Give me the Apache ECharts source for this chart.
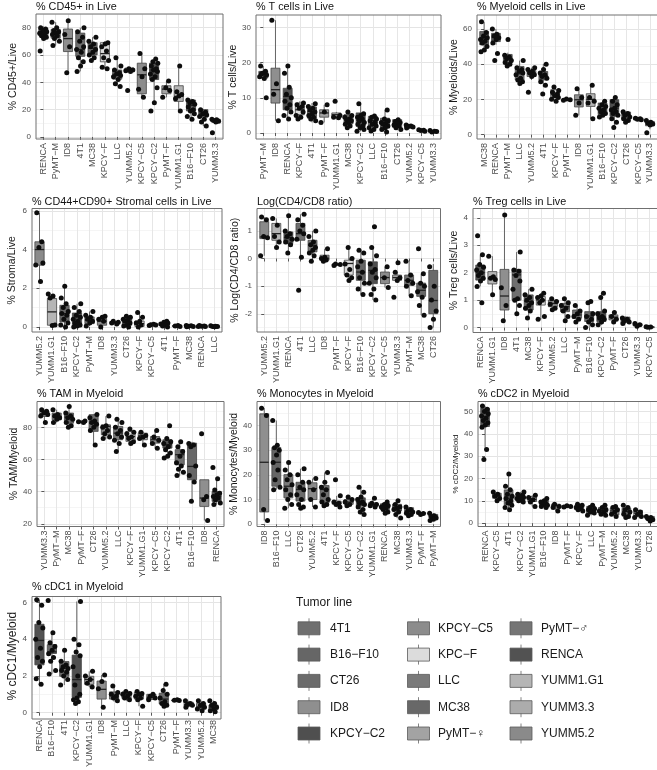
<!DOCTYPE html>
<html><head><meta charset="utf-8">
<script src="https://cdn.jsdelivr.net/npm/echarts@6/dist/echarts.min.js"></script>
<style>html,body{margin:0;padding:0;background:#fff}#c{width:657px;height:770px}</style>
</head><body><div id="c"></div>
<script>
// ---------------- DATA ----------------
const tumorLines = ['4T1','B16−F10','CT26','ID8','KPCY−C2','KPCY−C5','KPC−F','LLC','MC38','PyMT−♀','PyMT−♂','RENCA','YUMM1.G1','YUMM3.3','YUMM5.2'];
const tumorColors = ['#6f6f6f','#666666','#6b6b6b','#8f8f8f','#4f4f4f','#8c8c8c','#dcdcdc','#7a7a7a','#686868','#a3a3a3','#757575','#525252','#b5b5b5','#acacac','#8a8a8a'];
const axisAlias = {'KPCY−F':'KPC−F','PyMT−M':'PyMT−♂','PyMT−F':'PyMT−♀'};

const panelTitles = ['% CD45+ in Live','% T cells in Live','% Myeloid cells in Live','% CD44+CD90+ Stromal cells in Live','Log(CD4/CD8 ratio)','% Treg cells in Live','% TAM in Myeloid','% Monocytes in Myeloid','% cDC2 in Myeloid','% cDC1 in Myeloid'];
const yTitles = ['% CD45+/Live','% T cells/Live','% Myeloids/Live','% Stroma/Live','% Log(CD4/CD8 ratio)','% Treg cells/Live','% TAM/Myeloid','% Monocytes/Myeloid','% cDC2/Myeloid','% cDC1/Myeloid'];

// box stats: [lower whisker, Q1, median, Q3, upper whisker]
const cd45Cats = ['RENCA','PyMT−M','ID8','4T1','MC38','KPCY−F','LLC','YUMM5.2','KPCY−C5','KPCY−C2','PyMT−F','YUMM1.G1','B16−F10','CT26','YUMM3.3'];
const cd45Box = [[71,74,77,79.5,81],[67,72.3,76,78.8,84],[47,62.5,72,79,85],[48,59,64,76,80],[55,60,65,69,73],[50,55,61,69,70],[37,42.3,46,49,58],[47,48.7,49,50.4,50.5],[29,31.6,45.5,54,61],[26,42,49,54,57],[29,31.6,35,37.5,41],[19,26,29.7,37.5,52],[13,19,23,27,28],[8,14.6,17.5,20,20.5],[10.5,11,12,13,13.5]];
const cd45Pts = [[80,79,78,77,76,75,74,73,72,63],[84,80,78,77,76,75,74,72,70,67],[85,75,66,47],[80,77,73,70,66,64,62,58,55,52,48],[73,70,68,66,64,62,60,58,56],[69,68,66,63,58,56,51,50],[58,52,49,47,46,45,44,42,39,37],[50,49,48.5,48,34],[61,50,44,35,29],[57,55,54,52,50,49,48,46,44,42,36,25,19],[41,36,34,29],[52,33,31,30,28,19],[27,26,25,24,22,20,19,17,15,13],[20,18,17,16,15,13,11,8],[13,12.5,12,11.5,11,3]];

const tcCats = ['PyMT−M','ID8','RENCA','KPCY−F','4T1','PyMT−F','YUMM1.G1','MC38','KPCY−C2','LLC','B16−F10','CT26','YUMM5.2','KPCY−C5','YUMM3.3'];
const tcBox = [[15,15.6,16.5,17.5,19],[3.5,8.5,12.3,18.4,32],[4,6.6,10.4,12.7,19],[4,5.2,6.6,8.5,9],[3,4.2,6.1,7.4,8.5],[3,4.5,5.7,6.6,8],[4.3,4.5,5.2,5.7,6],[1.5,2.6,3.8,5.2,6],[0.5,1.9,3.6,5.7,8.3],[0.5,1.9,3.6,4.7,5],[0.3,1.4,3,4.2,6.5],[0.8,1.6,2.6,3.8,4],[1.2,1.4,1.9,2.2,2.5],[0.4,0.5,0.7,0.9,1.0],[0.2,0.3,0.5,0.7,0.8]];
const tcPts = [[19,17.5,17,16.5,16,15.5,16.8,10],[32,14,11,3.5],[19,17,13,11,10,9,8,7,6,5,4],[8.5,8,7.5,7,6,5,4.5,4],[8.3,7.5,7,6.5,6,5.5,5,4.5,4,3.5],[8,6,3],[9,5,4.5,4.3],[6,5,4.5,4,3.8,3.5,3,2.5,2,1.5],[8.3,5.5,5,4.5,4,3.5,3,2.5,2,1.5,1,0.5],[4.8,4.5,4,3.5,3,2.5,2,1.5,1,0.6],[6.5,4,3.5,3,2.8,2.5,2,1.5,1,0.3],[3.8,3.3,3,2.7,2.3,2,1.5,1],[2.3,2,1.9,1.7,1.4],[0.9,0.8,0.7,0.5],[0.7,0.5,0.3,0.4]];

const myCats = ['MC38','RENCA','PyMT−M','LLC','YUMM5.2','4T1','KPCY−F','PyMT−F','ID8','YUMM1.G1','B16−F10','KPCY−C2','CT26','KPCY−C5','YUMM3.3'];
const myBox = [[47,51,54.7,58.5,64],[51,52.8,55.3,57.5,60],[39,40.6,43.4,45.5,46.5],[28,31,34.5,38.7,42],[31,33,35,36.4,38],[27,31,33.4,35.8,40],[18,21.3,22.6,25.5,27],[19.4,19.5,19.8,20.1,20.2],[11,15.7,19.8,22.6,26],[9,16,20,23.2,28],[10,11.3,14,17.9,19],[4,10.4,15,19.8,21],[7,8.9,11.3,12.8,13],[8.5,8.6,8.9,9.3,9.4],[3,5,6.2,7.5,8]];
const myPts = [[64,58,56,55,54,53,52,50,48,47],[60,57,56,55,54,52,46,42],[54,45,44,43,42,41,40,39],[42,38,37,36,35,34,32,31,30,29],[38,37,36,35,34,33,24],[40,37,35,34,33,32,30,28,23],[27,25,24,23,22,21,20,19],[20.2,19.8,19.5],[26,21,18,11],[28,21,19,18,9],[19,17,16,15,14,13,12,11,10],[21,19,17,15,14,13,12,11,9,7,4],[13,12,11,10,9,8,7],[9.3,9,8.7,8.5],[8,7,6.5,6,5.5,1]];

const stCats = ['YUMM5.2','YUMM1.G1','B16−F10','KPCY−C2','PyMT−M','ID8','YUMM3.3','CT26','KPCY−F','KPCY−C5','4T1','PyMT−F','MC38','RENCA','LLC'];
const stBox = [[2.35,3.19,4.0,4.4,5.9],[0.05,0.09,0.78,1.47,1.7],[0,0.26,0.69,1.12,2.1],[0,0.01,0.2,0.72,1.2],[0.05,0.17,0.35,0.52,0.8],[0,0.09,0.3,0.43,0.55],[0.15,0.16,0.22,0.28,0.3],[0,0.09,0.26,0.43,0.55],[0,0.03,0.17,0.31,0.75],[0.08,0.09,0.11,0.13,0.14],[0,0.05,0.12,0.2,0.3],[0.03,0.04,0.05,0.07,0.08],[0.01,0.02,0.04,0.06,0.08],[0.02,0.03,0.04,0.06,0.07],[0.01,0.02,0.03,0.05,0.06]];
const stPts = [[5.9,4.4,4.1,3.3,3.2,2.35],[1.7,1.6,1.5,0.1,0.08],[2.1,1.5,1.2,1.0,0.8,0.7,0.6,0.4,0.2,0.1,0.0],[1.2,1.0,0.8,0.6,0.5,0.4,0.3,0.2,0.1,0.05,0],[0.8,0.6,0.5,0.4,0.3,0.2,0.05],[0.55,0.5,0.4,0.3,0.0],[0.3,0.25,0.2,0.15],[0.55,0.5,0.4,0.35,0.3,0.2,0.1,0.05,0],[0.75,0.5,0.3,0.2,0.1,0],[0.14,0.12,0.1,0.08],[0.3,0.25,0.2,0.15,0.1,0.05,0],[0.08,0.05,0.03],[0.08,0.06,0.04,0.02,0.01],[0.07,0.05,0.04,0.03,0.02],[0.06,0.04,0.03,0.02,0.01]];

const lgCats = ['YUMM5.2','YUMM1.G1','RENCA','4T1','LLC','ID8','PyMT−F','KPCY−F','B16−F10','KPCY−C2','KPCY−C5','YUMM3.3','PyMT−M','MC38','CT26'];
const lgBox = [[0.1,0.72,0.78,1.33,1.5],[0.4,0.66,0.9,1.27,1.45],[0.2,0.54,0.76,0.96,1.55],[0.05,0.66,0.9,1.27,1.6],[-0.1,0.24,0.48,0.66,1.0],[-0.1,-0.06,0.01,0.12,0.35],[-0.25,-0.24,-0.22,-0.2,-0.19],[-0.8,-0.6,-0.18,-0.06,0.4],[-1.3,-0.79,-0.49,-0.06,0.3],[-1.5,-0.91,-0.43,-0.12,0.4],[-1.05,-0.91,-0.69,-0.49,-0.3],[-0.85,-0.79,-0.69,-0.6,-0.5],[-1.35,-0.97,-0.79,-0.6,-0.1],[-2.05,-1.37,-1.15,-0.89,-0.55],[-2.5,-2.0,-1.52,-0.43,-0.2]];
const lgPts = [[1.5,1.4,0.8,0.75,0.1],[1.45,1.2,0.8,0.6,0.4],[1.55,1.0,0.9,0.8,0.7,0.6,0.5,0.2],[1.6,1.4,1.2,1.0,0.9,0.7,0.05,-1.15],[1.0,0.8,0.6,0.5,0.4,0.3,0.2,0.1,-0.1],[0.35,0.05,0,-0.05,-0.1],[-0.2,-0.22,-0.25],[0.4,0.0,-0.2,-0.4,-0.6,-0.7,-0.8],[0.3,0.2,-0.1,-0.3,-0.5,-0.7,-0.9,-1.1,-1.3],[1.15,0.4,0.1,-0.2,-0.4,-0.5,-0.7,-0.9,-1.1,-1.3,-1.5],[-0.3,-0.7,-1.05],[-0.15,-0.5,-0.7,-0.8,-1.4],[-0.1,-0.6,-0.8,-0.9,-1.0,-1.35],[0.35,-0.55,-0.9,-1.0,-1.2,-1.4,-1.7,-2.05],[-0.3,-1.0,-1.5,-1.9,-2.2,-2.5]];

const trCats = ['RENCA','YUMM1.G1','ID8','4T1','MC38','KPCY−F','YUMM5.2','LLC','PyMT−M','B16−F10','KPCY−C2','PyMT−F','CT26','YUMM3.3','KPCY−C5'];
const trBox = [[1.5,1.73,2.0,2.28,2.65],[1.2,1.59,1.79,2.04,2.6],[0.25,0.64,1.15,2.12,4.1],[0.5,1.0,1.92,2.12,2.75],[0.35,0.64,0.95,1.19,1.4],[0.3,0.82,1.0,1.13,1.25],[0.65,0.76,0.88,1.0,1.05],[0.25,0.58,0.76,0.88,1.05],[0.15,0.34,0.46,0.64,0.8],[0.0,0.22,0.42,0.58,0.95],[0.1,0.22,0.4,0.58,1.25],[0.2,0.28,0.38,0.46,0.55],[0.15,0.18,0.28,0.38,0.4],[0.05,0.06,0.1,0.14,0.15],[0.0,0.01,0.02,0.03,0.04]];
const trPts = [[3.35,2.65,2.3,2.2,2.1,2.0,1.9,1.8,1.7,1.5,0.9],[2.6,1.85,1.8,1.75,1.2],[4.1,1.45,0.8,0.25],[2.75,2.1,2.05,1.9,1.7,1.4,1.05,1.0,0.8,0.5],[1.4,1.2,1.1,1.0,0.9,0.8,0.7,0.6,0.35],[1.25,1.15,1.1,1.0,0.9,0.4,0.3],[1.05,0.95,0.85,0.7,0.65],[1.05,0.9,0.8,0.7,0.6,0.4,0.25],[0.8,0.6,0.5,0.4,0.3,0.2],[0.95,0.9,0.5,0.4,0.3,0.2,0.1,0.0],[1.25,1.1,0.6,0.5,0.4,0.35,0.3,0.2,0.1],[0.55,0.4,0.3,0.2],[0.35,0.3,0.25,0.2,0.15],[0.15,0.1,0.05],[0.03,0.02,0.01]];

const tmCats = ['YUMM3.3','PyMT−M','MC38','PyMT−F','CT26','YUMM5.2','LLC','KPCY−F','YUMM1.G1','KPCY−C5','KPCY−C2','4T1','B16−F10','ID8','RENCA'];
const tmBox = [[83,86.8,88.4,89.9,91],[83,84.7,86.8,88.9,91],[80,82.6,86.4,88.9,93],[83,83.1,83.3,84,84.3],[69,77.5,82.6,87.9,88],[73,75.4,80.6,81.6,87],[65,72.3,76.4,80.6,85],[70,71.3,74.3,77.5,79],[69,72.3,74.8,76.4,77],[67,70.2,72.3,74.3,78],[61,67.1,69.2,72.3,73],[50,56.7,63,66.1,71],[34,47.4,55.7,70.2,71],[22,30.8,36,47.4,47.5],[32,33.9,37,40.1,48]];
const tmPts = [[91,90,89,88,87,83],[91,88,87,86,85,83],[93,89,87,86,85,83,81,80],[84,83.5,83],[88,86,84,83,82,80,78,69],[87,81,80,78,76,74,73],[85,83,80,78,76,74,72,70,65],[79,77,76,74,73,71,70],[77,75,74,73,69],[78,74,72,70,67],[81,73,71,70,68,66,64,62,61],[71,68,65,62,58,56,54,52,50],[70,69,68,56,50,46,34],[76,37,35,22],[55,48,41,39,38,37,36,35,33,32]];

const moCats = ['ID8','B16−F10','LLC','CT26','YUMM5.2','4T1','KPCY−F','KPCY−C5','KPCY−C2','YUMM1.G1','RENCA','MC38','YUMM3.3','PyMT−F','PyMT−M'];
const moBox = [[1.5,5,25.1,44.7,47],[14,15.4,25.1,31.1,42],[6.5,10.7,15.4,20.1,25],[6.5,9.4,14.1,17,22.5],[7,10,14.4,16.8,18.5],[7.5,8.7,14.1,15.7,21],[7,8.1,8.7,9.4,11.5],[7.5,8.1,9,10,11],[4,7.4,9,10.7,15],[7,7.7,8,8.7,10.5],[4.5,6,7.4,8.3,9],[2.5,5.4,6.7,8.1,9.5],[3.5,4.7,5.4,6.7,7],[4,4.1,4.4,4.7,4.8],[1.5,2.7,3.4,4,4.5]];
const moPts = [[47,44,6,1.5],[42,32,31,30,28,25,22,18,15,14],[25,22,20,18,16,14,12,10,8,6.5],[22.5,20,17,15,14,12,10,8,7,6.5],[18.5,17,14,10,7],[21,17,15,14,12,10,9,8,7.5],[18,11.5,9,8.5,8,7],[11,10,9,8,7.5],[15,13,11,10,9,8.5,8,7,6,5,4],[10.5,8.5,8,7.5,7],[9,8,7.5,7,6.5,6,5,4.5],[9.5,8,7,6.5,6,5,4,2.5],[7,6,5.5,5,4.5,4,3.5],[4.8,4.4,4],[4.5,3.5,3,2.5,2,1.5]];

const c2Cats = ['RENCA','KPCY−C5','4T1','KPCY−C2','YUMM1.G1','B16−F10','ID8','PyMT−F','KPCY−F','LLC','PyMT−M','YUMM5.2','MC38','YUMM3.3','CT26'];
const c2Box = [[33,43.3,47.8,51.5,52.5],[10,11.2,12.2,13.4,14],[6,8.2,11.2,14.9,22],[9,10.1,11.6,13.4,14],[7.5,9.7,10.7,11.9,12.5],[7,7.5,8.7,10.1,11],[5.5,6.7,7.8,8.5,8.6],[7.2,7.3,7.5,7.7,7.8],[5.5,6,7.2,8.2,8.5],[3.5,4.5,6,7.5,8],[3.5,4.5,5.7,7,8],[3,3.7,5.5,6.7,7.5],[2.5,3.7,5.2,6.7,8],[2.5,3,4.5,5.7,6],[1,1.5,2.2,3,3.1]];
const c2Pts = [[52.5,51,50,49,48,47,46,45,44,43,33,28.5],[14,13,12,11,10],[22,16.5,15,13,12,11,10,9,8,7,6],[14,13,12.5,12,11.5,11,10.5,10,9.5],[12.5,11.5,10.5,9.5,7.5],[11,10,9.5,9,8.5,8,7.5,7],[8.5,7.5,7,5.5],[7.8,7.5,7.2],[8.5,8,7.5,7,6.5,6,5.5],[8,7,6.5,6,5.5,5,4.5,3.5],[8,7,6,5.5,5,4,3.5],[7.5,7,6,5,4,3],[8,7,6,5,4,3,2.5],[6,5,4,3,2.5],[3,2.5,2,1.5,1]];

const c1Cats = ['RENCA','B16−F10','4T1','KPCY−C2','YUMM1.G1','ID8','PyMT−M','LLC','KPCY−F','KPCY−C5','CT26','PyMT−F','YUMM3.3','YUMM5.2','MC38'];
const c1Box = [[1.55,2.6,3.93,4.81,6.15],[2.1,3.22,3.31,3.7,4.35],[1.5,1.98,2.42,2.78,3.4],[0.5,0.83,1.8,3.13,6.05],[1.4,1.54,1.8,1.98,2.25],[0.3,0.74,1.27,1.72,2.05],[0.6,0.74,0.96,1.13,1.45],[0.65,0.78,1.0,1.13,1.15],[0.35,0.74,0.92,1.1,1.15],[0.7,0.72,0.83,1.0,1.0],[0.35,0.48,0.74,1.06,1.55],[0.66,0.67,0.68,0.69,0.7],[0.3,0.35,0.44,0.57,0.65],[0.1,0.21,0.3,0.51,0.65],[0.05,0.18,0.3,0.42,0.65]];
const c1Pts = [[6.15,5.85,4.9,4.6,4.0,3.5,3.0,2.8,2.5,1.85,1.55],[6.1,4.35,3.8,3.6,3.4,3.2,3.0,2.8,2.3,2.1],[3.4,2.8,2.6,2.5,2.4,2.3,2.2,2.0,1.8,1.5],[6.05,4.0,3.7,3.3,3.1,2.5,2.0,1.5,1.0,0.8,0.7,0.6,0.5],[2.25,2.0,1.8,1.6,1.4],[2.05,1.7,1.3,0.3],[1.45,1.1,1.0,0.9,0.8,0.65],[1.15,1.05,1.0,0.9,0.8,0.7],[1.15,1.05,1.0,0.9,0.8,0.7,0.35],[1.0,0.9,0.8,0.7],[1.55,1.2,1.0,0.8,0.6,0.5,0.4,0.35],[0.7,0.68,0.66],[0.65,0.5,0.45,0.4,0.3],[0.65,0.5,0.4,0.3,0.2,0.1],[0.65,0.5,0.4,0.3,0.2,0.1,0.05]];

// ---------------- LAYOUT / STYLE ----------------
const FONT = '"Liberation Sans", Arial, Helvetica, sans-serif';
const JITTER = [-0.22, 0.18, -0.05, 0.27, -0.3, 0.08, -0.15, 0.24, 0.02, -0.26, 0.13, -0.1, 0.3];
const BOX_W = 0.74;
const layout = [
  {left:36,  top:14,    width:187,   height:125,   ymin:-1.5,  ymax:90,   step:20,  gap:16, ns:10.5, tTop:2},
  {left:256, top:15,    width:185,   height:124,   ymin:-1.7,  ymax:33.5, step:10,  gap:16, ns:10.5, tTop:2},
  {left:477, top:15,    width:184,   height:124,   ymin:-2.5,  ymax:67.9, step:20,  gap:15, ns:10.5, tTop:2},
  {left:32,  top:208.5, width:190,   height:123.5, ymin:-0.26, ymax:6.12, step:2,   gap:14, ns:10.5, tTop:196.5},
  {left:257, top:208.5, width:183.5, height:123.5, ymin:-2.66, ymax:1.81, step:1,   gap:15, ns:10.5, tTop:196.5},
  {left:473, top:208.5, width:187,   height:124,   ymin:-0.18, ymax:4.34, step:1,   gap:13, ns:10.5, tTop:196.5},
  {left:37,  top:401.5, width:187,   height:125,   ymin:18.3,  ymax:96.1, step:20,  gap:17, ns:10.5, tTop:389},
  {left:257, top:401.5, width:183.5, height:125,   ymin:-0.9,  ymax:49.7, step:10,  gap:17, ns:10.5, tTop:389},
  {left:478, top:401.5, width:184.5, height:125,   ymin:-1.5,  ymax:54.5, step:10,  gap:17, ns:8,    tTop:389},
  {left:32,  top:596.5, width:189,   height:122.5, ymin:-0.18, ymax:6.32, step:2,   gap:13, ns:12,   tTop:582}
];
const panelData = [
  [cd45Cats, cd45Box, cd45Pts],[tcCats, tcBox, tcPts],[myCats, myBox, myPts],
  [stCats, stBox, stPts],[lgCats, lgBox, lgPts],[trCats, trBox, trPts],
  [tmCats, tmBox, tmPts],[moCats, moBox, moPts],[c2Cats, c2Box, c2Pts],[c1Cats, c1Box, c1Pts]
];

function colorOf(cat) {
  const name = axisAlias[cat] || cat;
  const k = tumorLines.indexOf(name);
  return k >= 0 ? tumorColors[k] : '#888';
}
function ticksBetween(min, max, step, offset) {
  const out = [];
  let v = Math.ceil((min - offset) / step) * step + offset;
  for (; v <= max + 1e-9; v += step) out.push(Math.round(v * 1000) / 1000);
  return out.filter(x => x >= min && x <= max);
}
function isMult(v, step) { const r = v / step; return Math.abs(r - Math.round(r)) < 1e-6; }

const grids = [], xAxes = [], yAxes = [], series = [], titles = [], graphics = [];

panelData.forEach((pd, p) => {
  const [cats, box, pts] = pd;
  const L = layout[p];
  const n = cats.length;
  grids.push({left: L.left, top: L.top, width: L.width, height: L.height, containLabel: false});
  titles.push({text: panelTitles[p], left: L.left, top: L.tTop, padding: 0,
    textStyle: {fontSize: 10.8, fontWeight: 'normal', color: '#111', fontFamily: FONT}});
  const idx = cats.map((_, i) => i);
  xAxes.push({
    gridIndex: p, type: 'value', min: -0.6, max: n - 0.4, minInterval: 1, maxInterval: 1,
    axisLine: {show: false},
    axisTick: {show: true, length: 3, lineStyle: {color: '#333', width: 0.8}, customValues: idx},
    axisLabel: {rotate: 90, fontSize: 9, color: '#4d4d4d', margin: 4, fontFamily: FONT, customValues: idx,
      formatter: v => { const k = Math.round(v); return (Math.abs(v - k) < 1e-6 && k >= 0 && k < n) ? cats[k] : ''; }},
    splitLine: {show: true, lineStyle: {color: '#e6e6e6', width: 1}}
  });
  const major = ticksBetween(L.ymin, L.ymax, L.step, 0);
  const minor = ticksBetween(L.ymin, L.ymax, L.step, L.step / 2);
  yAxes.push({
    gridIndex: p, type: 'value', min: L.ymin, max: L.ymax, minInterval: L.step, maxInterval: L.step,
    axisLine: {show: false},
    axisTick: {show: true, length: 3, lineStyle: {color: '#333', width: 0.8}, customValues: major},
    axisLabel: {fontSize: 8, color: '#4d4d4d', margin: 5, fontFamily: FONT, customValues: major,
      formatter: v => isMult(v, L.step) ? String(Math.round(v)) : ''},
    splitLine: {show: true, lineStyle: {color: '#e4e4e4', width: 1}},
    name: yTitles[p], nameLocation: 'middle', nameGap: L.gap, nameRotate: 90,
    nameTextStyle: {fontSize: L.ns, color: '#1a1a1a', fontFamily: FONT}
  });
  yAxes.push({
    gridIndex: p, type: 'value', min: L.ymin, max: L.ymax, minInterval: L.step / 2, maxInterval: L.step / 2,
    axisLine: {show: false}, axisLabel: {show: false},
    axisTick: {show: false, customValues: minor},
    splitLine: {show: true, lineStyle: {color: '#f0f0f0', width: 0.7}}
  });
  series.push({
    type: 'custom', xAxisIndex: p, yAxisIndex: 2 * p, z: 3,
    data: cats.map((c, i) => [i].concat(box[i])),
    encode: {x: 0, y: [1, 2, 3, 4, 5]},
    renderItem: (params, api) => {
      const x = api.value(0);
      const lo = api.coord([x, api.value(1)]);
      const q1 = api.coord([x, api.value(2)]);
      const md = api.coord([x, api.value(3)]);
      const q3 = api.coord([x, api.value(4)]);
      const hi = api.coord([x, api.value(5)]);
      const w = api.size([BOX_W, 0])[0];
      const cx = lo[0];
      const fill = colorOf(cats[params.dataIndex]);
      return {type: 'group', children: [
        {type: 'line', shape: {x1: cx, y1: hi[1], x2: cx, y2: q3[1]}, style: {stroke: '#444', lineWidth: 0.8}},
        {type: 'line', shape: {x1: cx, y1: q1[1], x2: cx, y2: lo[1]}, style: {stroke: '#444', lineWidth: 0.8}},
        {type: 'rect', shape: {x: cx - w / 2, y: q3[1], width: w, height: Math.max(q1[1] - q3[1], 1)},
          style: {fill: fill, stroke: '#444', lineWidth: 0.8}},
        {type: 'line', shape: {x1: cx - w / 2, y1: md[1], x2: cx + w / 2, y2: md[1]}, style: {stroke: '#222', lineWidth: 1.3}}
      ]};
    }
  });
  const sdata = [];
  pts.forEach((arr, i) => arr.forEach((v, j) => sdata.push([i + JITTER[(j + i * 4) % JITTER.length], v])));
  series.push({
    type: 'scatter', xAxisIndex: p, yAxisIndex: 2 * p, z: 5, data: sdata,
    symbol: 'circle', symbolSize: 5, itemStyle: {color: '#0d0d0d', opacity: 1}
  });
  graphics.push({type: 'rect', z: 100, silent: true,
    shape: {x: L.left, y: L.top, width: L.width, height: L.height},
    style: {fill: null, stroke: '#707070', lineWidth: 1}});
});

// legend ("Tumor line")
const legendColX = [298, 407.5, 510];
const legendTextX = [330, 438, 541];
graphics.push({type: 'text', left: 296, top: 597, silent: true,
  style: {text: 'Tumor line', fontSize: 12, fill: '#1a1a1a', fontFamily: FONT}});
tumorLines.forEach((name, i) => {
  const col = Math.floor(i / 5), row = i % 5;
  const sx = legendColX[col], cy = 628.3 + row * 26.3;
  graphics.push({type: 'line', silent: true, z: 10, shape: {x1: sx + 11, y1: cy - 10, x2: sx + 11, y2: cy + 10}, style: {stroke: '#666', lineWidth: 0.8}});
  graphics.push({type: 'rect', silent: true, z: 11, shape: {x: sx, y: cy - 6.5, width: 22, height: 13}, style: {fill: tumorColors[i], stroke: '#5a5a5a', lineWidth: 0.8}});
  graphics.push({type: 'text', silent: true, z: 11, x: legendTextX[col], y: cy,
    style: {text: name, fontSize: 12, fill: '#1a1a1a', fontFamily: FONT, verticalAlign: 'middle', align: 'left'}});
});

const chart = echarts.init(document.getElementById('c'), null, {renderer: 'canvas'});
chart.setOption({
  animation: false,
  backgroundColor: '#ffffff',
  textStyle: {fontFamily: FONT},
  title: titles,
  grid: grids,
  xAxis: xAxes,
  yAxis: yAxes,
  series: series,
  graphic: graphics
});
</script>
</body></html>
